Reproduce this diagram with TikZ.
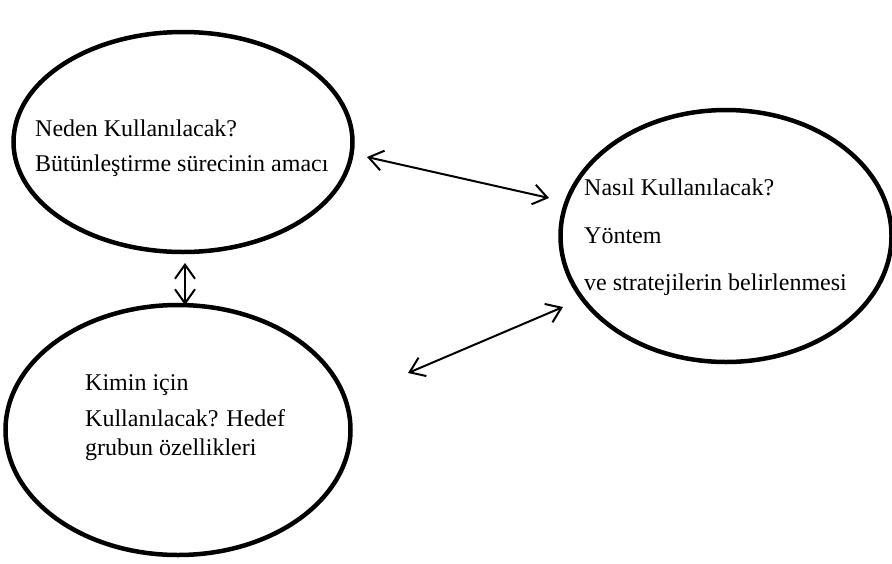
\documentclass[tikz,border=0pt]{standalone}
\usepackage{fontspec}
\setmainfont{Liberation Serif}
\usetikzlibrary{shapes.geometric,arrows.meta}
\begin{document}
\begin{tikzpicture}[x=1pt,y=-1pt,
  oval/.style={draw=black,line width=4.5pt,ellipse,inner sep=0pt},
  txt/.style={anchor=base west,inner sep=0pt,font=\fontsize{24}{28}\selectfont},
  link/.style={line width=2pt,{Straight Barb[length=14pt,width=20pt,line width=2pt]}-{Straight Barb[length=14pt,width=20pt,line width=2pt]}}]
\useasboundingbox[fill=white] (0,0) rectangle (892,563);
\node[oval,minimum width=339pt,minimum height=220pt] (neden) at (183,142) {};
\node[oval,minimum width=345pt,minimum height=250pt] (kimin) at (178,430) {};
\node[oval,minimum width=331pt,minimum height=252pt] (nasil) at (726,236) {};
\node[txt] (n1) at (35,136) {Neden Kullanılacak?};
\node[txt] (n2) at (35,171) {Bütünleştirme sürecinin amacı};
\node[txt] (s1) at (584,195) {Nasıl Kullanılacak?};
\node[txt] (s2) at (584,243) {Yöntem};
\node[txt] (s3) at (584,290) {ve stratejilerin belirlenmesi};
\node[txt] (k1) at (85,390) {Kimin için};
\node[txt] (k2) at (85,426) {Kullanılacak? Hedef};
\node[txt] (k3) at (85,455) {grubun özellikleri};
\coordinate (a1s) at (367,157);
\coordinate (a1e) at (549,198);
\coordinate (a2s) at (408,373);
\coordinate (a2e) at (563,307);
\coordinate (a3s) at (185,263);
\coordinate (a3e) at (185,305);
\draw[link] (a1s) -- (a1e);
\draw[link] (a2s) -- (a2e);
\draw[link] (a3s) -- (a3e);
\end{tikzpicture}
\end{document}
